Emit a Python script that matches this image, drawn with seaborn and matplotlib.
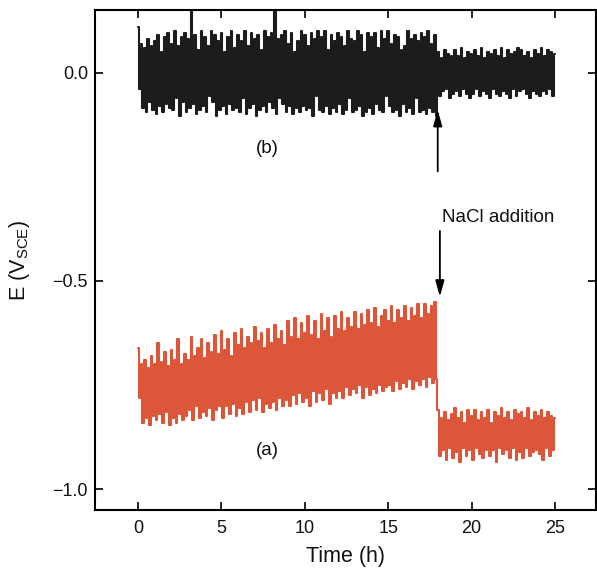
import numpy as np
import pandas as pd
import matplotlib
matplotlib.use("Agg")
import matplotlib.pyplot as plt
import seaborn as sns

# ---------------- data (potential in mV, sampled every 0.1 h) ----------------
time_step_h = 0.1

# curve (b): black, 0.0 h ... 17.9 h
b_before = [
    110, -40, 70, -85, 60, -95, 80, -70, 65, -90,
    75, -100, 90, -80, 50, -95, 85, -75, 95, -85,
    70, -90, 100, -60, 65, -105, 85, -70, 95, -95,
    80, -85, 160, -75, 90, -100, 55, -90, 100, -80,
    85, -95, 65, -55, 100, -70, 90, -105, 75, -90,
    95, -80, 50, -100, 85, -75, 100, -90, 60, -85,
    90, -95, 75, -60, 100, -100, 65, -85, 95, -75,
    80, -105, 90, -90, 55, -80, 100, -95, 85, -70,
    95, -85, 160, -100, 80, -60, 90, -75, 100, -95,
    70, -80, 95, -100, 50, -85, 75, -95, 100, -80,
    90, -90, 65, -85, 95, -105, 80, -55, 100, -90,
    85, -95, 100, -80, 55, -100, 90, -85, 75, -95,
    95, -75, 85, -100, 65, -90, 100, -60, 80, -95,
    75, -90, 100, -80, 90, -105, 50, -95, 95, -85,
    85, -100, 95, -75, 60, -90, 100, -95, 80, -55,
    100, -80, 70, -95, 90, -90, 85, -105, 55, -75,
    65, -95, 100, -85, 80, -100, 90, -60, 75, -95,
    95, -90, 85, -100, 100, -85, 70, -95, 90, -105,
]
# curve (b): black, 18.0 h ... 25.0 h
b_after = [
    50, -55, 35, -45, 55, -40, 45, -60, 40, -50,
    55, -45, 40, -55, 60, -40, 35, -50, 50, -60,
    45, -50, 55, -40, 40, -55, 60, -45, 35, -50,
    50, -60, 45, -40, 55, -50, 40, -55, 60, -45,
    35, -50, 55, -60, 45, -40, 50, -55, 60, -45,
    55, -40, 40, -50, 50, -60, 35, -45, 55, -50,
    45, -55, 60, -45, 40, -50, 55, -40, 50, -55,
    45,
]
# curve (a): red, 0.0 h ... 17.9 h
a_before = [
    -660, -780, -700, -840, -690, -830, -710, -845, -680, -825,
    -700, -835, -650, -820, -695, -840, -670, -815, -705, -845,
    -665, -830, -690, -840, -640, -820, -700, -835, -675, -825,
    -690, -810, -635, -835, -680, -800, -660, -830, -640, -815,
    -685, -825, -650, -805, -670, -835, -630, -810, -675, -800,
    -620, -830, -665, -800, -640, -820, -680, -795, -625, -825,
    -655, -805, -615, -820, -660, -790, -635, -815, -650, -785,
    -610, -810, -645, -780, -625, -815, -660, -795, -615, -805,
    -650, -790, -605, -810, -640, -780, -620, -800, -655, -785,
    -595, -800, -635, -775, -590, -795, -640, -770, -600, -790,
    -625, -780, -585, -800, -630, -765, -595, -790, -640, -770,
    -580, -785, -620, -760, -590, -795, -635, -770, -585, -780,
    -615, -765, -575, -780, -620, -755, -590, -775, -610, -760,
    -575, -770, -615, -750, -580, -780, -605, -755, -570, -775,
    -600, -760, -565, -770, -610, -750, -585, -765, -570, -755,
    -595, -750, -560, -765, -600, -740, -570, -760, -590, -745,
    -560, -755, -595, -735, -565, -760, -585, -740, -555, -750,
    -590, -735, -555, -755, -580, -730, -560, -745, -550, -735,
]
# curve (a): red, 18.0 h ... 25.0 h
a_after = [
    -810, -920, -830, -905, -815, -930, -835, -900, -820, -925,
    -805, -910, -830, -935, -815, -900, -840, -920, -810, -905,
    -825, -930, -810, -900, -835, -915, -815, -925, -830, -905,
    -810, -920, -840, -905, -815, -935, -825, -900, -805, -915,
    -830, -905, -815, -925, -835, -900, -810, -930, -820, -910,
    -815, -925, -830, -900, -805, -920, -835, -910, -815, -905,
    -825, -915, -810, -930, -830, -900, -815, -920, -825, -905,
    -830,
]

x_ticks = [0, 5, 10, 15, 20, 25]
y_ticks = [0.0, -0.5, -1.0]
y_tick_labels = ["0.0", "\u22120.5", "\u22121.0"]

# ---------------- build tidy table ----------------
b_mv = b_before + b_after
a_mv = a_before + a_after
time_h = np.round(np.arange(len(b_mv)) * time_step_h, 1)
df = pd.concat([
    pd.DataFrame({"t": time_h, "E": np.array(b_mv) / 1000.0, "curve": "b"}),
    pd.DataFrame({"t": time_h, "E": np.array(a_mv) / 1000.0, "curve": "a"}),
], ignore_index=True)

# ---------------- style ----------------
sns.set_theme(style="ticks")
plt.rcParams["font.family"] = ["Liberation Sans", "DejaVu Sans"]
plt.rcParams["mathtext.fontset"] = "custom"
plt.rcParams["mathtext.rm"] = "Liberation Sans"

fig = plt.figure(figsize=(5.97, 5.72), dpi=100)
ax = fig.add_axes([0.1591, 0.1084, 0.8392, 0.8741])

black = "#1a1d1c"
red = "#dc573a"

sns.lineplot(data=df[df.curve == "b"], x="t", y="E", ax=ax, color=black,
             lw=1.5, estimator=None, sort=False, legend=False,
             drawstyle="steps-mid")
sns.lineplot(data=df[df.curve == "a"], x="t", y="E", ax=ax, color=red,
             lw=1.5, estimator=None, sort=False, legend=False,
             drawstyle="steps-mid")

ax.set_xlim(-2.58, 27.46)
ax.set_ylim(-1.05, 0.1506)
ax.set_xticks(x_ticks)
ax.set_xticklabels([str(v) for v in x_ticks])
ax.set_yticks(y_ticks)
ax.set_yticklabels(y_tick_labels)
ax.tick_params(direction="in", length=6, width=1.2, top=True, right=True,
               labelsize=13, color="black", labelcolor="#111111")
ax.tick_params(axis="y", pad=5)
ax.tick_params(axis="x", pad=7)
for s in ax.spines.values():
    s.set_linewidth(1.5)
    s.set_color("black")

ax.set_xlabel("Time (h)", fontsize=15.5, color="#111111")
ax.set_ylabel(r"E (V$_\mathregular{SCE}$)", fontsize=15.5, color="#111111")
ax.xaxis.set_label_coords(0.5, -0.072)
ax.yaxis.set_label_coords(-0.125, 0.5)

# annotations
ax.text(7.73, -0.181, "(b)", fontsize=13.5, ha="center", va="center", color="#111111")
ax.text(7.73, -0.906, "(a)", fontsize=13.5, ha="center", va="center", color="#111111")
ax.text(18.23, -0.347, "NaCl addition", fontsize=13.5, ha="left", va="center",
        color="#111111")
arrow_kw = dict(arrowstyle="-|>,head_length=0.8,head_width=0.22", color="black",
                lw=1.3, shrinkA=0, shrinkB=0)
ax.annotate("", xy=(17.97, -0.089), xytext=(17.97, -0.237), arrowprops=arrow_kw)
ax.annotate("", xy=(18.1, -0.538), xytext=(18.1, -0.38), arrowprops=arrow_kw)

fig.savefig("out.png", dpi=100)
